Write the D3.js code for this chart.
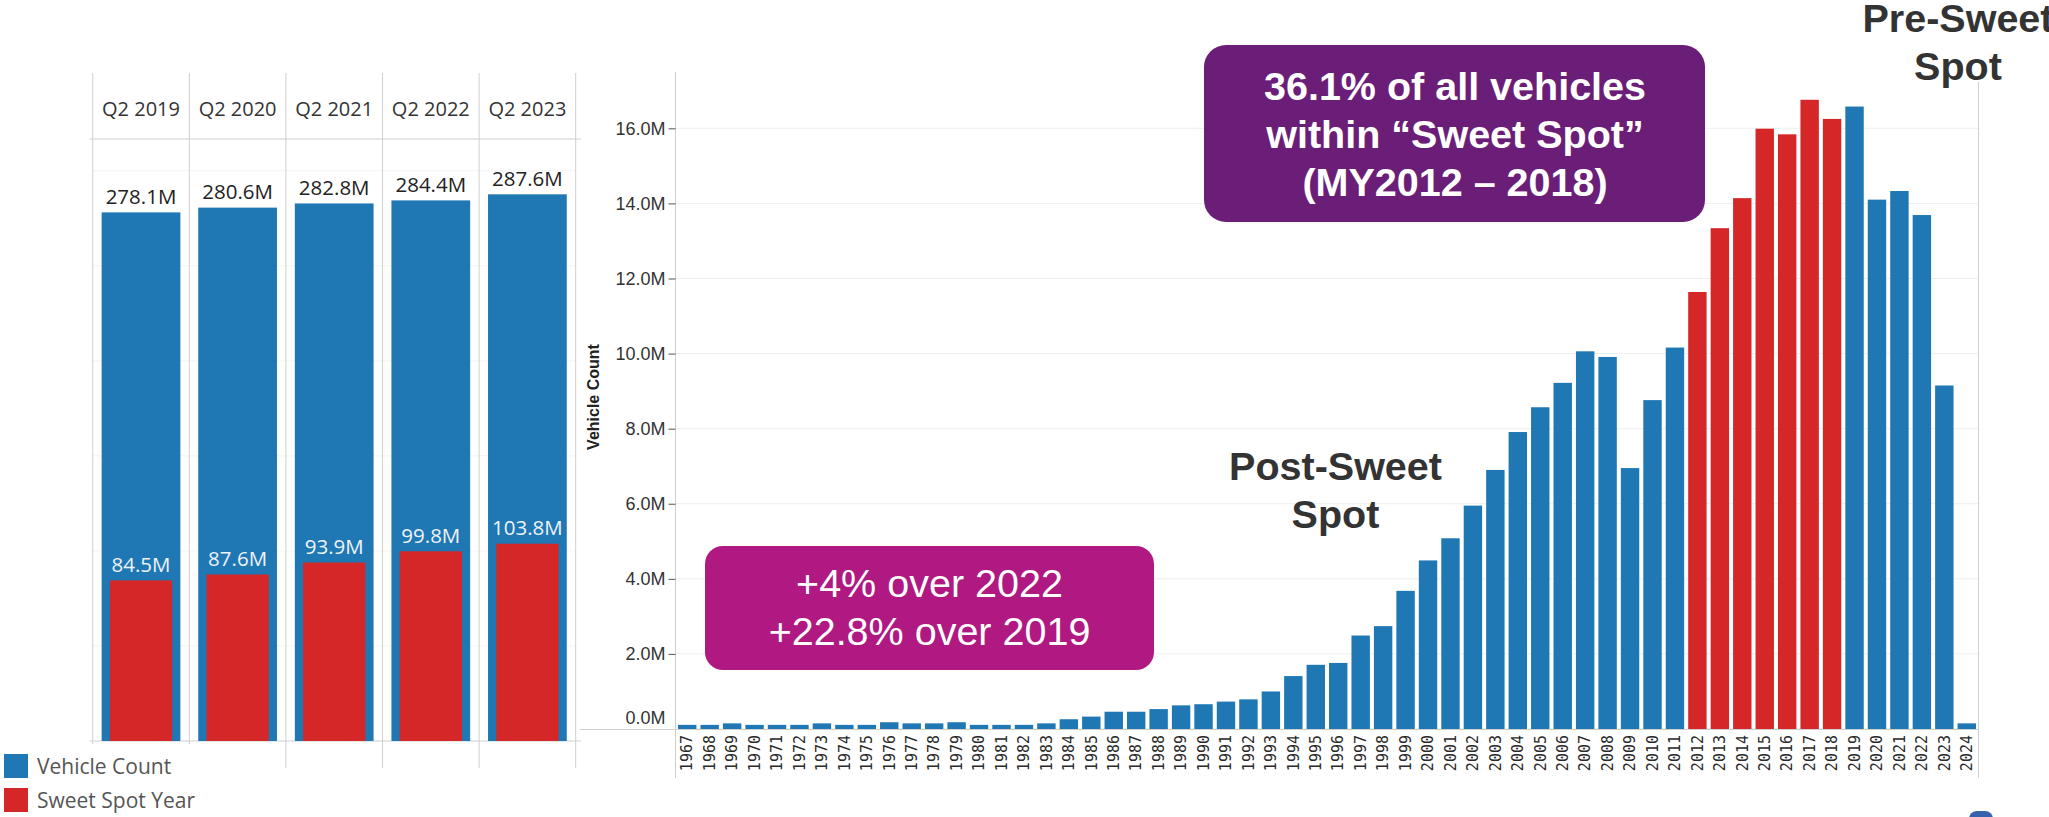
<!DOCTYPE html>
<html>
<head>
<meta charset="utf-8">
<script src="https://cdn.jsdelivr.net/npm/d3@7/dist/d3.min.js"></script>
<style>
    body { margin: 0; background: #fff; }
    svg { display: block; }
</style>
</head>
<body>
<script>
//region Data
// left panel: vehicles in operation per quarter (millions)
const quarters = ['Q2 2019', 'Q2 2020', 'Q2 2021', 'Q2 2022', 'Q2 2023'];
const vehicleCount = [278.1, 280.6, 282.8, 284.4, 287.6];
const sweetSpotCount = [84.5, 87.6, 93.9, 99.8, 103.8];
const leftGridTicks = [50, 100, 150, 200, 250, 300];

// right panel: vehicle count by model year (millions)
const modelYears = [
    '1967', '1968', '1969', '1970', '1971', '1972', '1973', '1974', '1975', '1976',
    '1977', '1978', '1979', '1980', '1981', '1982', '1983', '1984', '1985', '1986',
    '1987', '1988', '1989', '1990', '1991', '1992', '1993', '1994', '1995', '1996',
    '1997', '1998', '1999', '2000', '2001', '2002', '2003', '2004', '2005', '2006',
    '2007', '2008', '2009', '2010', '2011', '2012', '2013', '2014', '2015', '2016',
    '2017', '2018', '2019', '2020', '2021', '2022', '2023', '2024'];
const yearCounts = [
    0.11, 0.11, 0.15, 0.11, 0.11, 0.11, 0.15, 0.11, 0.11, 0.18,
    0.15, 0.15, 0.18, 0.11, 0.11, 0.11, 0.15, 0.26, 0.33, 0.46,
    0.46, 0.53, 0.63, 0.66, 0.73, 0.79, 1.00, 1.41, 1.71, 1.76,
    2.49, 2.74, 3.68, 4.49, 5.08, 5.95, 6.90, 7.91, 8.57, 9.22,
    10.06, 9.91, 6.95, 8.76, 10.16, 11.64, 13.34, 14.14, 15.99, 15.84,
    16.76, 16.25, 16.58, 14.10, 14.33, 13.69, 9.15, 0.15];
const sweetSpotYears = ['2012', '2013', '2014', '2015', '2016', '2017', '2018'];
const yTicks = [0, 2, 4, 6, 8, 10, 12, 14, 16];

const legendLabels = ['Vehicle Count', 'Sweet Spot Year'];
//endregion

const svgWidth = 2049;
const svgHeight = 817;

const colors = {blue: '#1f77b4', red: '#d62728', grid: '#efefef', line: '#cfcfcf'};

const config = {
    left: {x0: 92.7, x1: 575.7, top: 73, header: 139, base: 741, yMax: 316.7},
    right: {x0: 676, x1: 1978, top: 72, base: 729, yMax: 17.5, bottom: 778}
};

window.onload = main;

function main() {
    const svg = d3.select('body')
        .append('svg')
        .attr('width', svgWidth)
        .attr('height', svgHeight);

    init_left(svg, config.left);
    init_right(svg, config.right);
    init_annotations(svg);
    init_legend(svg);
}

function init_left(svg, cfg) {
    const data = quarters.map((q, i) => ({q, total: vehicleCount[i], sweet: sweetSpotCount[i]}));
    const g = svg.append('g').classed('left', true);

    const scaleX = d3.scaleBand().domain(quarters).range([cfg.x0, cfg.x1]);
    const scaleY = d3.scaleLinear().domain([0, cfg.yMax]).range([cfg.base, cfg.header]);
    const bw = scaleX.bandwidth();

    // faint grid
    g.append('g').selectAll('line')
        .data(leftGridTicks)
        .join('line')
        .attr('x1', cfg.x0).attr('x2', cfg.x1)
        .attr('y1', d => scaleY(d)).attr('y2', d => scaleY(d))
        .attr('stroke', '#f3f3f3');

    // column separators
    const edges = quarters.map(q => scaleX(q)).concat([cfg.x1]);
    g.append('g').selectAll('line')
        .data(edges)
        .join('line')
        .attr('x1', d => d).attr('x2', d => d)
        .attr('y1', cfg.top).attr('y2', 768)
        .attr('stroke', colors.line);

    // header line + baseline
    g.append('line')
        .attr('x1', cfg.x0 - 3).attr('x2', cfg.x1 + 5)
        .attr('y1', cfg.header).attr('y2', cfg.header)
        .attr('stroke', colors.line);
    g.append('line')
        .attr('x1', cfg.x0 - 3).attr('x2', cfg.x1 + 5)
        .attr('y1', cfg.base).attr('y2', cfg.base)
        .attr('stroke', colors.line);

    // header labels
    g.append('g').selectAll('text')
        .data(quarters)
        .join('text')
        .attr('x', d => scaleX(d) + bw / 2)
        .attr('y', 109)
        .attr('dy', '0.35em')
        .attr('text-anchor', 'middle')
        .attr('font-family', '"Open Sans", sans-serif')
        .attr('font-size', 20)
        .attr('fill', '#333')
        .text(d => d);

    const blueW = bw * 0.815;
    const redW = bw * 0.645;

    g.append('g').selectAll('rect')
        .data(data)
        .join('rect')
        .attr('x', d => scaleX(d.q) + (bw - blueW) / 2)
        .attr('y', d => scaleY(d.total))
        .attr('width', blueW)
        .attr('height', d => cfg.base - scaleY(d.total))
        .attr('fill', colors.blue);

    g.append('g').selectAll('rect')
        .data(data)
        .join('rect')
        .attr('x', d => scaleX(d.q) + (bw - redW) / 2)
        .attr('y', d => scaleY(d.sweet))
        .attr('width', redW)
        .attr('height', d => cfg.base - scaleY(d.sweet))
        .attr('fill', colors.red);

    // value labels
    const label = (sel, key, fill) => sel.selectAll(null)
        .data(data)
        .join('text')
        .attr('x', d => scaleX(d.q) + bw / 2)
        .attr('y', d => scaleY(d[key]) - 8.5)
        .attr('text-anchor', 'middle')
        .attr('font-family', '"Open Sans", sans-serif')
        .attr('font-size', 20.5)
        .attr('fill', fill)
        .text(d => d[key].toFixed(1) + 'M');
    label(g.append('g'), 'total', '#222');
    label(g.append('g'), 'sweet', '#eef3f8');
}

function init_right(svg, cfg) {
    const data = modelYears.map((y, i) => ({year: y, value: yearCounts[i]}));
    const g = svg.append('g').classed('right', true);

    const scaleX = d3.scaleBand()
        .domain(modelYears)
        .range([cfg.x0, cfg.x1])
        .paddingInner(0.18)
        .paddingOuter(0.09);
    const scaleY = d3.scaleLinear().domain([0, cfg.yMax]).range([cfg.base, cfg.top]);

    // grid
    g.append('g').selectAll('line')
        .data(yTicks.filter(d => d > 0))
        .join('line')
        .attr('x1', cfg.x0).attr('x2', cfg.x1)
        .attr('y1', d => scaleY(d)).attr('y2', d => scaleY(d))
        .attr('stroke', colors.grid);

    // bars
    g.append('g').classed('rects', true).selectAll('rect')
        .data(data)
        .join('rect')
        .attr('x', d => scaleX(d.year))
        .attr('y', d => scaleY(d.value))
        .attr('width', scaleX.bandwidth())
        .attr('height', d => cfg.base - scaleY(d.value))
        .attr('fill', d => sweetSpotYears.includes(d.year) ? colors.red : colors.blue);

    // frame lines
    g.append('line')
        .attr('x1', 580).attr('x2', cfg.x1)
        .attr('y1', cfg.base + 0.5).attr('y2', cfg.base + 0.5)
        .attr('stroke', colors.line);
    g.append('line')
        .attr('x1', cfg.x0 - 0.5).attr('x2', cfg.x0 - 0.5)
        .attr('y1', cfg.top).attr('y2', cfg.bottom)
        .attr('stroke', colors.line);
    g.append('line')
        .attr('x1', cfg.x1 + 0.5).attr('x2', cfg.x1 + 0.5)
        .attr('y1', 82).attr('y2', cfg.bottom)
        .attr('stroke', colors.line);

    // y axis
    const yAxis = g.append('g')
        .attr('transform', `translate(${cfg.x0 - 0.5},0)`)
        .call(d3.axisLeft(scaleY)
            .tickValues(yTicks)
            .tickSize(7)
            .tickPadding(3)
            .tickFormat(d => d.toFixed(1) + 'M'));
    yAxis.select('.domain').remove();
    yAxis.selectAll('.tick line').attr('stroke', '#555');
    yAxis.selectAll('.tick text')
        .attr('font-family', '"Liberation Sans", Arial, sans-serif')
        .attr('font-size', 18)
        .attr('fill', '#333');
    yAxis.selectAll('.tick').filter(d => d === 0).select('line').remove();
    yAxis.selectAll('.tick').filter(d => d === 0).select('text').attr('dy', '-0.3em');

    g.append('text')
        .attr('transform', 'translate(593, 397) rotate(-90)')
        .attr('text-anchor', 'middle')
        .attr('dy', '0.35em')
        .attr('font-family', '"Liberation Sans", Arial, sans-serif')
        .attr('font-weight', 'bold')
        .attr('font-size', 16)
        .attr('fill', '#222')
        .text('Vehicle Count');

    // x axis, rotated year labels
    const xAxis = g.append('g')
        .attr('transform', `translate(0,${cfg.base})`)
        .call(d3.axisBottom(scaleX).tickSize(0));
    xAxis.select('.domain').remove();
    xAxis.selectAll('.tick text')
        .attr('transform', 'rotate(-90)')
        .attr('x', -6)
        .attr('y', 0)
        .attr('dy', '0.35em')
        .attr('text-anchor', 'end')
        .attr('font-family', '"DejaVu Sans Mono", monospace')
        .attr('font-size', 15)
        .attr('fill', '#2a2a2a');
}

function init_annotations(svg) {
    const g = svg.append('g').classed('annotations', true);
    const font = '"Liberation Sans", Arial, sans-serif';

    const multiline = (lines, cx, y0, opts) => {
        g.append('g').selectAll('text')
            .data(lines)
            .join('text')
            .attr('x', cx)
            .attr('y', (d, i) => y0 + i * 48)
            .attr('text-anchor', 'middle')
            .attr('font-family', font)
            .attr('font-weight', opts.weight)
            .attr('font-size', opts.size)
            .attr('fill', opts.fill)
            .text(d => d);
    };

    // sweet spot box
    g.append('rect')
        .attr('x', 1204).attr('y', 45)
        .attr('width', 501).attr('height', 177)
        .attr('rx', 22)
        .attr('fill', '#6b1e77');
    multiline(['36.1% of all vehicles', 'within \u201cSweet Spot\u201d', '(MY2012 \u2013 2018)'],
        1455, 100, {weight: 'bold', size: 39.5, fill: '#fff'});

    // growth box
    g.append('rect')
        .attr('x', 705).attr('y', 546)
        .attr('width', 449).attr('height', 124)
        .attr('rx', 18)
        .attr('fill', '#b01882');
    multiline(['+4% over 2022', '+22.8% over 2019'], 929.5, 597,
        {weight: 'normal', size: 39.5, fill: '#fff'});

    multiline(['Post-Sweet', 'Spot'], 1335.5, 480, {weight: 'bold', size: 39.5, fill: '#333'});
    multiline(['Pre-Sweet', 'Spot'], 1958, 32, {weight: 'bold', size: 39.5, fill: '#333'});

    // small logo corner at the bottom right
    g.append('rect')
        .attr('x', 1969).attr('y', 811)
        .attr('width', 24).attr('height', 20)
        .attr('rx', 8)
        .attr('fill', '#3561ad');
}

function init_legend(svg) {
    const g = svg.append('g').classed('legend', true);
    g.append('rect')
        .attr('x', 0).attr('y', 744)
        .attr('width', 212).attr('height', 73)
        .attr('fill', '#fff');

    const items = g.selectAll('g')
        .data(legendLabels)
        .join('g')
        .attr('transform', (d, i) => `translate(4, ${754 + i * 34})`);
    items.append('rect')
        .attr('width', 24).attr('height', 24)
        .attr('fill', (d, i) => i === 0 ? colors.blue : colors.red);
    items.append('text')
        .attr('x', 33)
        .attr('y', 20)
        .attr('font-family', '"Open Sans", sans-serif')
        .attr('font-size', 21)
        .attr('fill', '#555')
        .text(d => d);
}
</script>
</body>
</html>
